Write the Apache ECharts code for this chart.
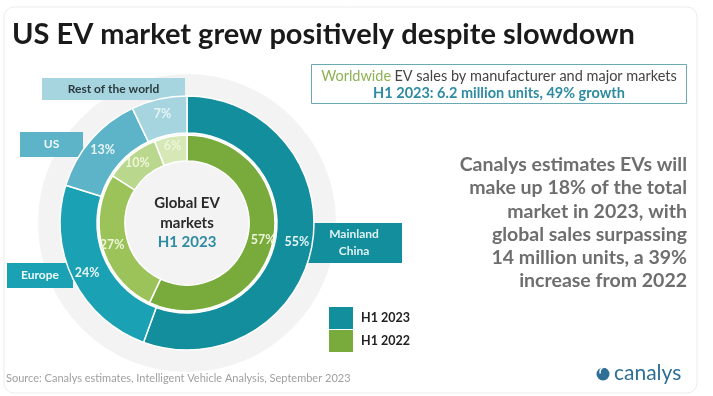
<!DOCTYPE html>
<html>
<head>
<meta charset="utf-8">
<script src="https://cdn.jsdelivr.net/npm/echarts@6/dist/echarts.min.js"></script>
<style>
  html, body { margin: 0; padding: 0; background: #fff; }
  #main { width: 713px; height: 396px; }
</style>
</head>
<body>
<div id="main"></div>
<script>
// data
var markets = ['Mainland China', 'Europe', 'US', 'Rest of the world'];
var share2023 = [55, 24, 13, 7];
var share2022 = [57, 27, 10, 6];
var seriesNames = ['H1 2023', 'H1 2022'];
var noteLines = [
  'Canalys estimates EVs will',
  'make up 18% of the total',
  'market in 2023, with',
  'global sales surpassing',
  '14 million units, a 39%',
  'increase from 2022'
];

var tealColors = ['#128e9c', '#1aa2b4', '#5db4c8', '#a6d5e0'];
var greenColors = ['#78aa3c', '#9cc35a', '#b9d78d', '#d5e8b6'];
var FONT = 'Lato';
var cx = 187, cy = 223;

var chartDom = document.getElementById('main');
var myChart = echarts.init(chartDom, null, { renderer: 'canvas' });

function pieData(vals, colors) {
  return vals.map(function (v, i) {
    return { name: markets[i], value: v, itemStyle: { color: colors[i] } };
  });
}

// label box that sits under the rings
function calloutBox(x, y, w, h, color, text, textColor) {
  return [
    { type: 'rect', z: 1, shape: { x: x, y: y, width: w, height: h }, style: { fill: color } },
    {
      type: 'text', z: 1, x: x + w / 2, y: y + h / 2,
      style: {
        text: text, fill: textColor, font: 'bold 12px ' + FONT,
        align: 'center', verticalAlign: 'middle', lineHeight: 17
      }
    }
  ];
}

var graphics = [
  // card frame
  { type: 'rect', z: 0, shape: { x: 4, y: 7, width: 693, height: 386, r: 10 },
    style: { fill: 'none', stroke: '#ececec', lineWidth: 1 } },
  // subtitle box
  { type: 'rect', z: 1, shape: { x: 311.5, y: 64.5, width: 375, height: 39 },
    style: { fill: '#fff', stroke: '#6aaab4', lineWidth: 1 } },
  { type: 'text', z: 2, x: 499, y: 76,
    style: {
      text: '{g|Worldwide} {d|EV sales by manufacturer and major markets}',
      align: 'center', verticalAlign: 'middle',
      rich: {
        g: { fill: '#8db254', font: '14.5px ' + FONT },
        d: { fill: '#444', font: '14.5px ' + FONT }
      }
    } },
  { type: 'text', z: 2, x: 499, y: 93,
    style: {
      text: 'H1 2023: 6.2 million units, 49% growth',
      fill: '#2d8ca2', font: 'bold 14.5px ' + FONT,
      align: 'center', verticalAlign: 'middle'
    } },
  // centre caption
  { type: 'text', z: 10, x: cx, y: 223,
    style: {
      text: '{a|Global EV}\n{a|markets}\n{b|H1 2023}',
      align: 'center', verticalAlign: 'middle',
      rich: {
        a: { fill: '#2a2a2a', font: 'bold 15px ' + FONT, lineHeight: 19.5, align: 'center' },
        b: { fill: '#2d8ca2', font: 'bold 15px ' + FONT, lineHeight: 19.5, align: 'center' }
      }
    } },
  // legend
  { type: 'rect', z: 1, shape: { x: 329, y: 307, width: 24, height: 22 }, style: { fill: tealColors[0] } },
  { type: 'rect', z: 1, shape: { x: 329, y: 330, width: 24, height: 22 }, style: { fill: greenColors[0] } },
  { type: 'text', z: 1, x: 361, y: 318,
    style: { text: seriesNames[0], fill: '#222', font: 'bold 12.5px ' + FONT, verticalAlign: 'middle' } },
  { type: 'text', z: 1, x: 361, y: 341,
    style: { text: seriesNames[1], fill: '#222', font: 'bold 12.5px ' + FONT, verticalAlign: 'middle' } },
  // note on the right
  { type: 'text', z: 1, x: 687, y: 153,
    style: {
      text: noteLines.join('\n'), fill: '#6e6e6e', font: 'bold 19.5px ' + FONT,
      align: 'right', verticalAlign: 'top', lineHeight: 23.3
    } },
  // source
  { type: 'text', z: 1, x: 6, y: 378,
    style: {
      text: 'Source: Canalys estimates, Intelligent Vehicle Analysis, September 2023',
      fill: '#a0a0a0', font: '11px ' + FONT, verticalAlign: 'middle'
    } },
  // canalys logo
  { type: 'circle', z: 1, shape: { cx: 603, cy: 374, r: 6.5 }, style: { fill: '#2d6f96' } },
  { type: 'arc', z: 2, shape: { cx: 605, cy: 372, r: 5, startAngle: Math.PI * 0.9, endAngle: Math.PI * 1.6 },
    style: { stroke: '#fff', lineWidth: 1.6, fill: 'none' } },
  { type: 'text', z: 1, x: 614, y: 373,
    style: { text: 'canalys', fill: '#2d6f96', font: '21px ' + FONT, verticalAlign: 'middle' } }
];

graphics = graphics
  .concat(calloutBox(42, 78, 143, 22, tealColors[3], markets[3], '#2b3a3e'))
  .concat(calloutBox(20, 132, 63, 25, tealColors[2], markets[2], '#eef8fa'))
  .concat(calloutBox(7, 263, 66, 25, tealColors[1], markets[1], '#eef8fa'))
  .concat(calloutBox(306, 223, 96, 40, tealColors[0], 'Mainland\nChina', '#dff2f4'));

var option = {
  backgroundColor: '#fff',
  animation: false,
  title: {
    text: 'US EV market grew positively despite slowdown',
    left: 7, top: 15,
    textStyle: { fontFamily: FONT, fontWeight: 'bold', fontSize: 29, color: '#1a1a1a' }
  },
  graphic: graphics,
  series: [
    {
      name: 'halo',
      type: 'pie',
      z: 0,
      silent: true,
      center: [cx, cy],
      radius: [0, 149],
      label: { show: false },
      labelLine: { show: false },
      data: [{ value: 1, itemStyle: { color: '#f3f3f3' } }]
    },
    {
      name: seriesNames[0],
      type: 'pie',
      z: 3,
      center: [cx, cy],
      radius: [90, 127],
      startAngle: 90,
      clockwise: true,
      itemStyle: { borderColor: '#fff', borderWidth: 1.5 },
      label: {
        position: 'inside', formatter: '{c}%',
        color: '#e6f4f6', fontFamily: FONT, fontWeight: 'bold', fontSize: 12.5
      },
      data: pieData(share2023, tealColors)
    },
    {
      name: seriesNames[1],
      type: 'pie',
      z: 3,
      center: [cx, cy],
      radius: [62, 88],
      startAngle: 90,
      clockwise: true,
      itemStyle: { borderColor: '#fff', borderWidth: 1.5 },
      label: {
        position: 'inside', formatter: '{c}%',
        color: '#eef6d8', fontFamily: FONT, fontWeight: 'bold', fontSize: 12.5
      },
      data: pieData(share2022, greenColors)
    }
  ]
};

option && myChart.setOption(option);
</script>
</body>
</html>
